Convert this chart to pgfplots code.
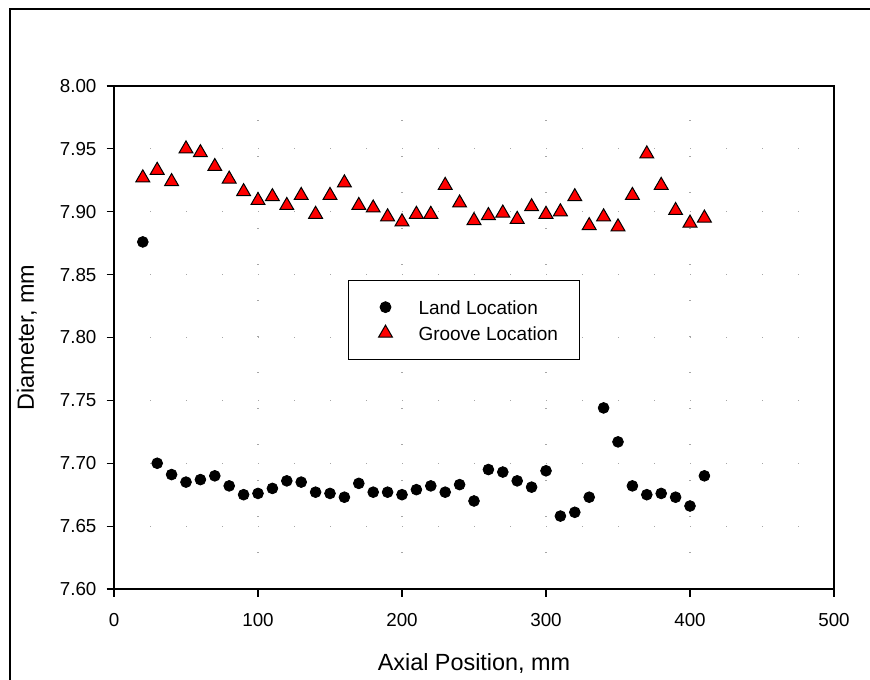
\documentclass[border=0pt]{standalone}
\usepackage{fontspec}
\setmainfont{Liberation Sans}
\usepackage{pgfplots}
\pgfplotsset{compat=1.18}

\begin{document}
\begin{tikzpicture}
\useasboundingbox (-57pt,-45pt) rectangle (378pt,294.5pt);
\begin{axis}[
  scale only axis,
  width=360pt, height=251.5pt,
  xmin=0, xmax=500,
  ymin=7.6, ymax=8.0,
  xtick={0,100,...,500},
  ytick={7.60,7.65,7.70,7.75,7.80,7.85,7.90,7.95,8.00},
  tick pos=left,
  tick align=outside,
  major tick length=3.75pt,
  axis line style={line width=0.6pt},
  tick style={line width=0.6pt, black},
  grid=major,
  major grid style={black!35, line width=0.6pt, dash pattern=on 0.6pt off 17.4pt},
  /pgf/number format/assume math mode=true,
  ticklabel style={font=\fontsize{9.4}{11}\selectfont},
  xticklabel style={yshift=-4.8pt},
  yticklabel style={xshift=-1.5pt, /pgf/number format/.cd, fixed, fixed zerofill, precision=2},
  xlabel={Axial Position, mm},
  xlabel style={at={(axis description cs:0.5,0)}, anchor=base, yshift=-40.5pt,
    font=\fontsize{11.7}{14}\selectfont},
  legend style={at={(axis description cs:0.325,0.614)}, anchor=north west,
    draw=black, line width=0.5pt,
    inner xsep=11pt, inner ysep=7.6pt,
    font=\fontsize{9.5}{11}\selectfont,
    row sep=1.7pt,
    nodes={inner sep=0pt, text height=9.3pt, text depth=2pt},
    /tikz/every odd column/.append style={column sep=9pt}},
  legend cell align=left,
  legend image code/.code={
    \path[draw=none] (0pt,-1pt) rectangle (15pt,1pt);
    \draw[#1] plot coordinates {(7.5pt,0pt)};
  },
]

% land location
\addplot[only marks, mark=*, mark size=2.7pt, black, mark options={fill=black}]
  coordinates{
    (20,7.876) (30,7.700) (40,7.691) (50,7.685) (60,7.687)
    (70,7.690) (80,7.682) (90,7.675) (100,7.676) (110,7.680)
    (120,7.686) (130,7.685) (140,7.677) (150,7.676) (160,7.673)
    (170,7.684) (180,7.677) (190,7.677) (200,7.675) (210,7.679)
    (220,7.682) (230,7.677) (240,7.683) (250,7.670) (260,7.695)
    (270,7.693) (280,7.686) (290,7.681) (300,7.694) (310,7.658)
    (320,7.661) (330,7.673) (340,7.744) (350,7.717) (360,7.682)
    (370,7.675) (380,7.676) (390,7.673) (400,7.666) (410,7.690)
};
\addlegendentry{Land Location}

% groove location
\addplot[only marks, mark=triangle*, mark size=4pt, black,
    mark options={fill=red, draw=black, line width=0.5pt}]
  coordinates{
    (20,7.927) (30,7.933) (40,7.924) (50,7.950) (60,7.947)
    (70,7.936) (80,7.926) (90,7.916) (100,7.909) (110,7.912)
    (120,7.905) (130,7.913) (140,7.898) (150,7.913) (160,7.923)
    (170,7.905) (180,7.903) (190,7.896) (200,7.892) (210,7.898)
    (220,7.898) (230,7.921) (240,7.907) (250,7.893) (260,7.897)
    (270,7.899) (280,7.894) (290,7.904) (300,7.898) (310,7.900)
    (320,7.912) (330,7.889) (340,7.896) (350,7.888) (360,7.913)
    (370,7.946) (380,7.921) (390,7.901) (400,7.891) (410,7.895)
};
\addlegendentry{Groove Location}

\end{axis}
\node[rotate=90, anchor=base, font=\fontsize{11.7}{14}\selectfont]
  at (-40pt,125.75pt) {Diameter, mm};
\draw[line width=1pt] (-51.85pt,-60pt) -- (-51.85pt,289.85pt) -- (400pt,289.85pt);
\end{tikzpicture}
\end{document}
